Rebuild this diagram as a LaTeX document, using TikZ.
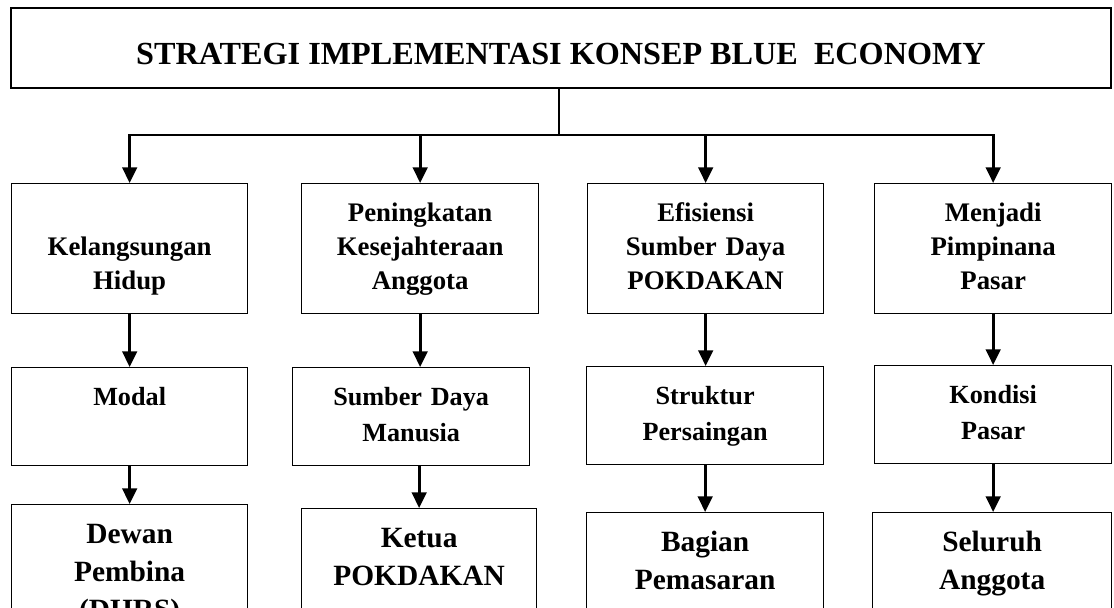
\documentclass[tikz,border=0pt]{standalone}
\usepackage{fontspec}
\setmainfont{Liberation Serif}
\usetikzlibrary{arrows.meta}

\tikzset{
    box/.style={draw, line width=0.65pt, anchor=north west, inner xsep=0pt, inner ysep=0pt,
        align=center, execute at begin node=\strut, execute at end node=\strut},
    rowone/.style={box, minimum height=65pt, font=\fontsize{13.4}{17}\selectfont\bfseries},
    rowtwo/.style={box, minimum height=49pt, font=\fontsize{13.1}{18}\selectfont\bfseries},
    rowthree/.style={box, minimum height=69.5pt, font=\fontsize{14.7}{19}\selectfont\bfseries},
    link/.style={line width=1.35pt},
    arrow/.style={link, -{Triangle[width=7.3pt,length=7.8pt]}}
}

\begin{document}
\begin{tikzpicture}[x=0.5pt,y=-0.5pt]
    % Frame of the picture
    \useasboundingbox (0,0) rectangle (1114,608);
    \clip (0,0) rectangle (1114,608);

    \node[draw, line width=1pt, anchor=north west, inner sep=0pt, minimum width=550pt, minimum height=40pt,
        font=\fontsize{16.1}{20}\selectfont\bfseries] (strategi) at (10,7)
        {\raisebox{-8.5pt}[0pt][0pt]{STRATEGI IMPLEMENTASI KONSEP BLUE\ \ ECONOMY}};

    % Goals
    \node[rowone, text width=118pt] (hidup) at (11,183) {\mbox{}\\Kelangsungan\\Hidup};
    \node[rowone, text width=118.5pt] (sejahtera) at (301,183) {Peningkatan\\Kesejahteraan\\Anggota};
    \node[rowone, text width=118pt] (efisiensi) at (587,183) {Efisiensi\\Sumber Daya\\POKDAKAN};
    \node[rowone, text width=118.5pt] (pasar) at (874,183) {Menjadi\\Pimpinana\\Pasar};

    % Resources
    \node[rowtwo, text width=118pt] (modal) at (11,367) {Modal\\\mbox{}};
    \node[rowtwo, text width=118.5pt] (sdm) at (292,367) {Sumber Daya\\Manusia};
    \node[rowtwo, text width=118.5pt] (saing) at (586,366) {Struktur\\Persaingan};
    \node[rowtwo, text width=118.5pt] (kondisi) at (874,365) {Kondisi\\Pasar};

    % People in charge
    \node[rowthree, text width=118pt] (dewan) at (11,504) {Dewan\\Pembina\\(DHRS)};
    \node[rowthree, text width=117.5pt] (ketua) at (301,508) {Ketua\\POKDAKAN\\\mbox{}};
    \node[rowthree, text width=118.5pt] (bagian) at (586,512) {Bagian\\Pemasaran\\\mbox{}};
    \node[rowthree, text width=119.5pt] (seluruh) at (872,512) {Seluruh\\Anggota\\\mbox{}};

    % Connectors
    \coordinate (split) at (559,135);
    \draw[link] (strategi.south -| split) -- (split);
    \draw[arrow] (split) -| (hidup.north);
    \draw[arrow] (split) -| (sejahtera.north);
    \draw[arrow] (split) -| (efisiensi.north);
    \draw[arrow] (split) -| (pasar.north);

    \draw[arrow] (hidup.south) -- (hidup.south |- modal.north);
    \draw[arrow] (sejahtera.south) -- (sejahtera.south |- sdm.north);
    \draw[arrow] (efisiensi.south) -- (efisiensi.south |- saing.north);
    \draw[arrow] (pasar.south) -- (pasar.south |- kondisi.north);

    \draw[arrow] (modal.south) -- (modal.south |- dewan.north);
    \draw[arrow] (sdm.south -| ketua.north) -- (ketua.north);
    \draw[arrow] (saing.south) -- (saing.south |- bagian.north);
    \draw[arrow] (kondisi.south) -- (kondisi.south |- seluruh.north);
\end{tikzpicture}
\end{document}
